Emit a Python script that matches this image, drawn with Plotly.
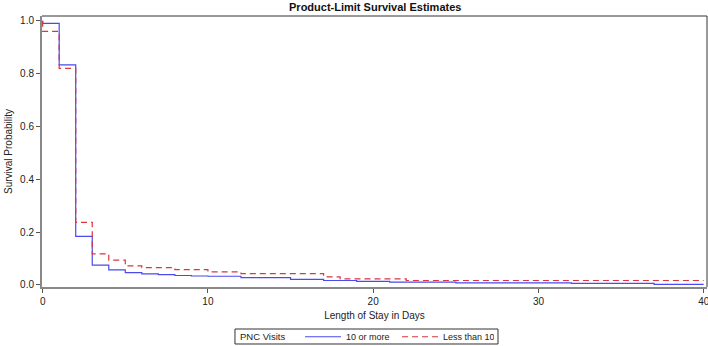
import plotly.graph_objects as go

# Kaplan-Meier step data (time in days, survival probability)
days_10_or_more = [0, 0, 1, 2, 3, 4, 5, 6, 7, 8, 9, 10, 12, 15, 17, 19, 21, 25, 32, 37, 40]
surv_10_or_more = [1.0, 0.99, 0.833, 0.184, 0.075, 0.057, 0.047, 0.042, 0.039, 0.036, 0.034, 0.033,
                   0.028, 0.021, 0.017, 0.014, 0.011, 0.008, 0.006, 0.002, 0.002]

days_less_10 = [0, 0, 1, 2, 3, 4, 5, 6, 8, 10, 12, 17, 18, 22, 40]
surv_less_10 = [1.0, 0.96, 0.82, 0.237, 0.118, 0.094, 0.072, 0.066, 0.058, 0.050, 0.043,
                0.031, 0.023, 0.017, 0.017]

x_ticks = [0, 10, 20, 30, 40]
y_ticks = [0.0, 0.2, 0.4, 0.6, 0.8, 1.0]

font_family = "Liberation Sans, Arial, sans-serif"

fig = go.Figure()
fig.add_trace(go.Scatter(
    x=days_10_or_more, y=surv_10_or_more, mode="lines", line_shape="hv",
    name="10 or more", line=dict(color="#4a4af0", width=1.2)))
fig.add_trace(go.Scatter(
    x=days_less_10, y=surv_less_10, mode="lines", line_shape="hv",
    name="Less than 10", line=dict(color="#d9363e", width=1.2, dash="6px,4px")))

fig.update_layout(
    width=708, height=346,
    margin=dict(l=42, r=1, t=16, b=59, autoexpand=False),
    paper_bgcolor="white", plot_bgcolor="white",
    font=dict(family=font_family, size=10, color="#222"),
    title=dict(text="<b>Product-Limit Survival Estimates</b>", x=0.53, xanchor="center",
               y=0.99, yanchor="top", font=dict(size=11, color="#111"), automargin=False),
    showlegend=True,
    legend=dict(orientation="h", x=0.388, xanchor="left", y=-0.13, yanchor="top",
                borderwidth=0, font=dict(size=9), bgcolor="rgba(0,0,0,0)",
                itemwidth=36, entrywidth=46, tracegroupgap=0),
)
fig.update_xaxes(
    range=[-0.04, 40.2], tickvals=x_ticks, ticks="outside", ticklen=4, tickcolor="#555",
    showline=True, linecolor="#888", linewidth=2, showgrid=False, zeroline=False,
    automargin=False, ticklabeloverflow="allow",
    title=dict(text="Length of Stay in Days", standoff=6, font=dict(size=10)),
    tickfont=dict(size=10))
fig.update_yaxes(
    range=[-0.0076, 1.018], tickvals=y_ticks, tickformat=".1f", ticks="outside", ticklen=4,
    tickcolor="#555", showline=True, linecolor="#888", linewidth=2, showgrid=False,
    zeroline=False, automargin=False, ticklabeloverflow="allow",
    title=dict(text="Survival Probability", standoff=6, font=dict(size=10)),
    tickfont=dict(size=10))

# top and right frame lines
fig.add_shape(type="line", xref="x domain", yref="y domain", x0=0, x1=1, y0=1, y1=1,
              line=dict(color="#333", width=1))
fig.add_shape(type="line", xref="x domain", yref="y domain", x0=1, x1=1, y0=0, y1=1,
              line=dict(color="#333", width=1))
# legend frame and legend title
fig.add_shape(type="rect", xref="paper", yref="paper", x0=0.2902, x1=0.6857,
              y0=-0.2103, y1=-0.155, line=dict(color="#333", width=1))
fig.add_annotation(text="PNC Visits", xref="paper", yref="paper", x=0.2947, y=-0.1827,
                   xanchor="left", yanchor="middle", showarrow=False, font=dict(size=9.5))

fig.write_html("out.html", config={"displayModeBar": False},
               post_script="document.body.style.margin='0';document.body.style.overflow='hidden';")
